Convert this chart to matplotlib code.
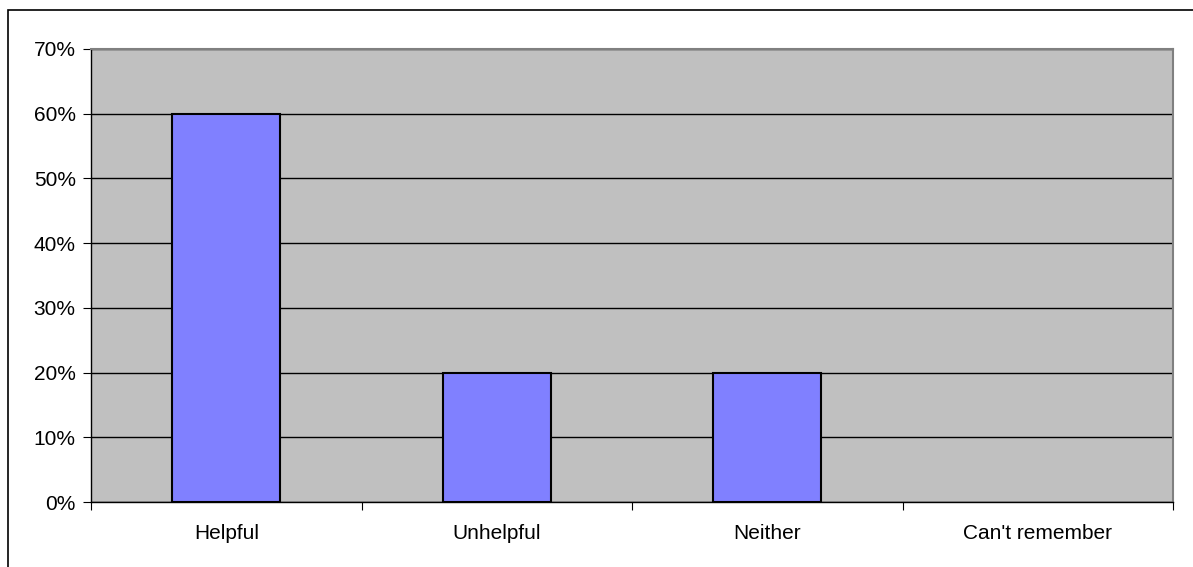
import matplotlib.pyplot as plt
from matplotlib.patches import Rectangle
from matplotlib.ticker import FuncFormatter, MultipleLocator

categories = ['Helpful', 'Unhelpful', 'Neither', "Can't remember"]
values = [60, 20, 20, 0]

plt.rcParams['font.family'] = ['Liberation Sans', 'DejaVu Sans']

W, H = 1193, 567
fig = plt.figure(figsize=(W / 100, H / 100), dpi=100)

# outer chart border (runs off the right and bottom edges)
fig.patches.append(Rectangle((8 / W, -0.05), 1.05, 1.05 - 10 / H, transform=fig.transFigure,
                             fill=False, edgecolor='black', linewidth=1.2))

ax = fig.add_axes([91 / W, 1 - 502 / H, (1173 - 91) / W, (502 - 49) / H])
ax.set_facecolor('#C0C0C0')

x = range(len(categories))
lw = [1.5 if v > 0 else 0 for v in values]
ax.bar(x, values, width=0.4, color='#8080FF', edgecolor='black', linewidth=lw, zorder=3)

ax.set_xlim(-0.5, len(categories) - 0.5)
ax.set_ylim(0, 70)
ax.yaxis.set_major_locator(MultipleLocator(10))
ax.yaxis.set_major_formatter(FuncFormatter(lambda v, p: f"{v:.0f}%"))
ax.grid(axis='y', color='black', linewidth=1, zorder=1)
ax.set_axisbelow(True)

ax.set_xticks([i + 0.5 for i in range(-1, len(categories))])
ax.set_xticklabels([])
ax.set_xticks(list(x), minor=True)
ax.set_xticklabels(categories, minor=True)
ax.tick_params(axis='x', which='minor', length=0, pad=16, labelsize=15)
ax.tick_params(axis='x', which='major', length=6, direction='out', color='black')
ax.tick_params(axis='y', length=6, direction='out', labelsize=15, pad=5)

for side in ['top', 'right']:
    ax.spines[side].set_color('#808080')
    ax.spines[side].set_linewidth(1.5)
for side in ['left', 'bottom']:
    ax.spines[side].set_color('black')
    ax.spines[side].set_linewidth(1)

fig.savefig('out.png', dpi=100)
